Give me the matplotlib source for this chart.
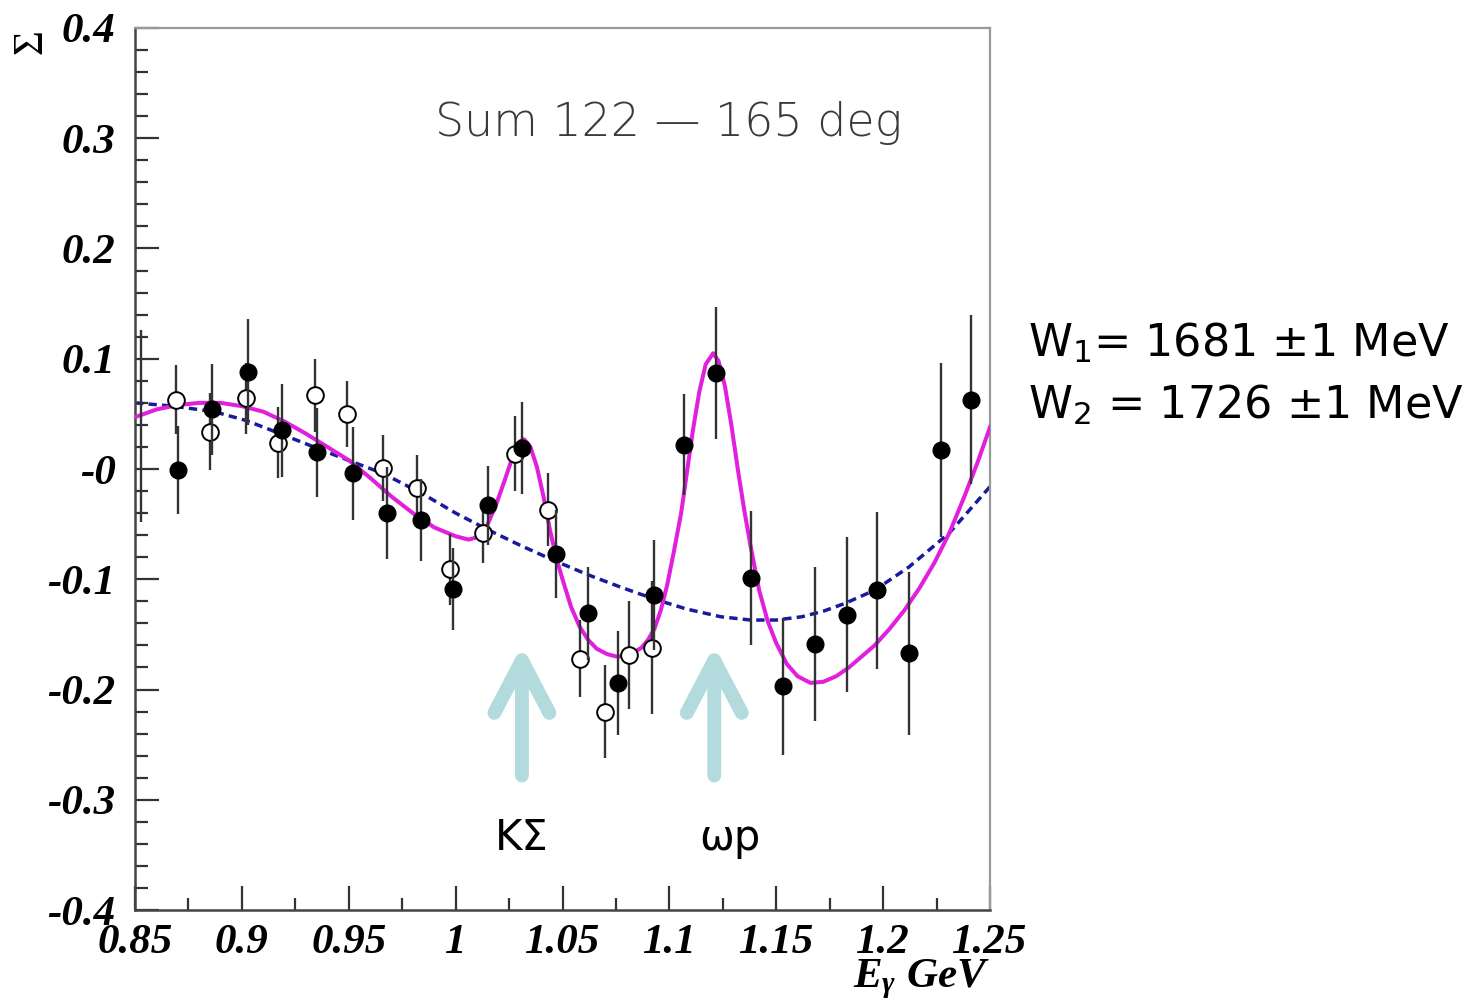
import numpy as np
import matplotlib
matplotlib.use("Agg")
import matplotlib.pyplot as plt
from matplotlib.ticker import MultipleLocator

plt.rcParams['mathtext.fontset'] = 'custom'
plt.rcParams['mathtext.it'] = 'Liberation Serif:italic:bold'
plt.rcParams['mathtext.rm'] = 'Liberation Serif:bold'
plt.rcParams['mathtext.sf'] = 'DejaVu Sans'

# beam asymmetry, filled points (E_gamma [GeV], Sigma, error)
e_full = [0.870, 0.886, 0.903, 0.919, 0.935, 0.952, 0.968, 0.984, 0.999, 1.015,
          1.031, 1.047, 1.062, 1.076, 1.093, 1.107, 1.122, 1.138, 1.153, 1.168,
          1.183, 1.197, 1.212, 1.227, 1.241]
s_full = [-0.001, 0.054, 0.088, 0.035, 0.015, -0.004, -0.040, -0.046, -0.109, -0.033,
          0.019, -0.077, -0.131, -0.194, -0.114, 0.022, 0.087, -0.099, -0.197, -0.159,
          -0.132, -0.110, -0.167, 0.017, 0.063]
err_full = [0.040, 0.041, 0.048, 0.042, 0.040, 0.042, 0.042, 0.037, 0.037, 0.036,
            0.042, 0.040, 0.042, 0.047, 0.050, 0.046, 0.060, 0.061, 0.062, 0.070,
            0.070, 0.071, 0.074, 0.079, 0.077]

# open points
e_open = [0.869, 0.885, 0.902, 0.917, 0.934, 0.949, 0.966, 0.982, 0.9975, 1.013,
          1.028, 1.043, 1.058, 1.070, 1.081, 1.092]
s_open = [0.063, 0.034, 0.064, 0.024, 0.067, 0.050, 0.001, -0.017, -0.091, -0.058,
          0.014, -0.037, -0.172, -0.220, -0.169, -0.162]
err_open = [0.031, 0.035, 0.032, 0.032, 0.033, 0.030, 0.030, 0.030, 0.032, 0.027,
            0.034, 0.033, 0.035, 0.042, 0.049, 0.060]

# point at the left edge, only its error bar is inside the frame
e_edge = [0.8528]
s_edge = [0.039]
err_edge = [0.087]

# fit with two narrow resonances
fit_e = [0.850, 0.860, 0.870, 0.880, 0.890, 0.900, 0.910, 0.920, 0.930, 0.940,
         0.950, 0.960, 0.970, 0.980, 0.990, 1.000, 1.006, 1.012, 1.015, 1.019,
         1.023, 1.027, 1.030, 1.032, 1.035, 1.038, 1.041, 1.044, 1.047, 1.050,
         1.054, 1.058, 1.062, 1.066, 1.071, 1.075, 1.079, 1.083, 1.087, 1.090,
         1.093, 1.096, 1.099, 1.102, 1.1055, 1.108, 1.111, 1.114, 1.117, 1.1205,
         1.123, 1.126, 1.129, 1.132, 1.135, 1.138, 1.142, 1.146, 1.150, 1.155,
         1.160, 1.166, 1.172, 1.178, 1.184, 1.190, 1.196, 1.203, 1.210, 1.217,
         1.224, 1.231, 1.238, 1.244, 1.250]
fit_s = [0.047, 0.054, 0.058, 0.060, 0.060, 0.057, 0.052, 0.043, 0.032, 0.020,
         0.008, -0.008, -0.025, -0.040, -0.053, -0.061, -0.064, -0.061, -0.050, -0.032,
         -0.010, 0.013, 0.025, 0.027, 0.020, 0.002, -0.024, -0.054, -0.080, -0.100,
         -0.125, -0.143, -0.155, -0.163, -0.168, -0.170, -0.170, -0.167, -0.162, -0.155,
         -0.145, -0.128, -0.105, -0.076, -0.040, -0.006, 0.035, 0.070, 0.095, 0.105,
         0.098, 0.075, 0.040, 0.000, -0.037, -0.070, -0.110, -0.138, -0.158, -0.177,
         -0.188, -0.194, -0.193, -0.188, -0.180, -0.170, -0.160, -0.145, -0.128, -0.108,
         -0.085, -0.058, -0.025, 0.005, 0.038]

# smooth background-only fit
bg_e = [0.850, 0.868, 0.887, 0.902, 0.918, 0.935, 0.951, 0.966, 0.985, 1.000,
        1.015, 1.030, 1.046, 1.062, 1.077, 1.093, 1.108, 1.124, 1.138, 1.150,
        1.162, 1.172, 1.182, 1.196, 1.212, 1.231, 1.250]
bg_s = [0.060, 0.057, 0.052, 0.044, 0.032, 0.019, 0.007, -0.004, -0.023, -0.040,
        -0.055, -0.069, -0.083, -0.096, -0.107, -0.118, -0.127, -0.134, -0.137, -0.137,
        -0.134, -0.129, -0.122, -0.110, -0.089, -0.058, -0.016]

x_ticks = [0.85, 0.9, 0.95, 1.0, 1.05, 1.1, 1.15, 1.2, 1.25]
x_labels = ["0.85", "0.9", "0.95", "1", "1.05", "1.1", "1.15", "1.2", "1.25"]
y_ticks = [0.4, 0.3, 0.2, 0.1, 0.0, -0.1, -0.2, -0.3, -0.4]
y_labels = ["0.4", "0.3", "0.2", "0.1", "-0", "-0.1", "-0.2", "-0.3", "-0.4"]

# production thresholds and where their names go
thresholds = [1.031, 1.121]
threshold_names = ["KΣ", "ωp"]
name_e = [1.031, 1.1285]

fig = plt.figure(figsize=(14.73, 10.05), dpi=100)
ax = fig.add_axes([135 / 1473, 1 - 910 / 1005, 855 / 1473, 882 / 1005])

ax.plot(bg_e, bg_s, color="#1a1a9c", lw=2.5, ls=(0, (2.4, 1.5)), zorder=2)
ax.plot(fit_e, fit_s, color="#e020dc", lw=2.9, zorder=3)

ax.errorbar(e_edge, s_edge, yerr=err_edge, fmt="none", ecolor="#333333",
            elinewidth=1.7, zorder=4)
ax.errorbar(e_open, s_open, yerr=err_open, fmt="o", ms=12, mfc="white",
            mec="black", mew=1.4, ecolor="#333333", elinewidth=1.7, zorder=4)
ax.errorbar(e_full, s_full, yerr=err_full, fmt="o", ms=12, mfc="black",
            mec="black", ecolor="#333333", elinewidth=1.7, zorder=5)

ax.set_xlim(0.85, 1.25)
ax.set_ylim(-0.4, 0.4)

tick_font = dict(family="Liberation Serif", weight="bold", style="italic", size=31)
ax.set_xticks(x_ticks)
ax.set_xticklabels(x_labels, fontdict=tick_font)
ax.set_yticks(y_ticks)
ax.set_yticklabels(y_labels, fontdict=tick_font)
ax.xaxis.set_minor_locator(MultipleLocator(0.025))
ax.yaxis.set_minor_locator(MultipleLocator(0.02))
ax.tick_params(which="major", direction="in", length=17, width=1.6,
               color="#333333", top=False, right=False)
ax.tick_params(which="minor", direction="in", length=9, width=1.6,
               color="#333333", top=False, right=False)
ax.tick_params(axis="x", pad=10)
ax.tick_params(axis="y", pad=14)

for side in ["left", "bottom"]:
    ax.spines[side].set_color("#444444")
    ax.spines[side].set_linewidth(1.8)
for side in ["top", "right"]:
    ax.spines[side].set_color("#999999")
    ax.spines[side].set_linewidth(1.6)

# axis titles
fig.text(31 / 1473, 1 - 42 / 1005, "Σ", rotation=90, ha="center", va="center",
         family="Liberation Serif", size=31)
fig.text(990 / 1473, 1 - 987 / 1005, r"$E_\gamma$ GeV", ha="right", va="baseline",
         family="Liberation Serif", weight="bold", style="italic", size=31)

ax.text((435 - 135) / 855, 1 - (123 - 28) / 882, "Sum 122 — 165 deg",
        transform=ax.transAxes, family="DejaVu Sans", weight="light", size=33,
        color="#3a3a3a", ha="left", va="center")

for e_thr, e_name, name in zip(thresholds, name_e, threshold_names):
    ax.annotate("", xy=(e_thr, -0.160), xytext=(e_thr, -0.278),
                arrowprops=dict(arrowstyle="->, head_length=2.1, head_width=1.1",
                                mutation_scale=18, lw=10, color="#b3dadd",
                                capstyle="round", joinstyle="round",
                                shrinkA=0, shrinkB=0))
    ax.text(e_name, -0.335, name, ha="center", va="center", size=30,
            family="DejaVu Sans", color="black")

fig.text(1028 / 1473, 1 - 343 / 1005, r"W$_\mathsf{1}$= 1681 ±1 MeV", ha="left",
         va="center", family="DejaVu Sans", size=32)
fig.text(1028 / 1473, 1 - 405 / 1005, r"W$_\mathsf{2}$ = 1726 ±1 MeV", ha="left",
         va="center", family="DejaVu Sans", size=32)

fig.savefig("out.png", dpi=100)
